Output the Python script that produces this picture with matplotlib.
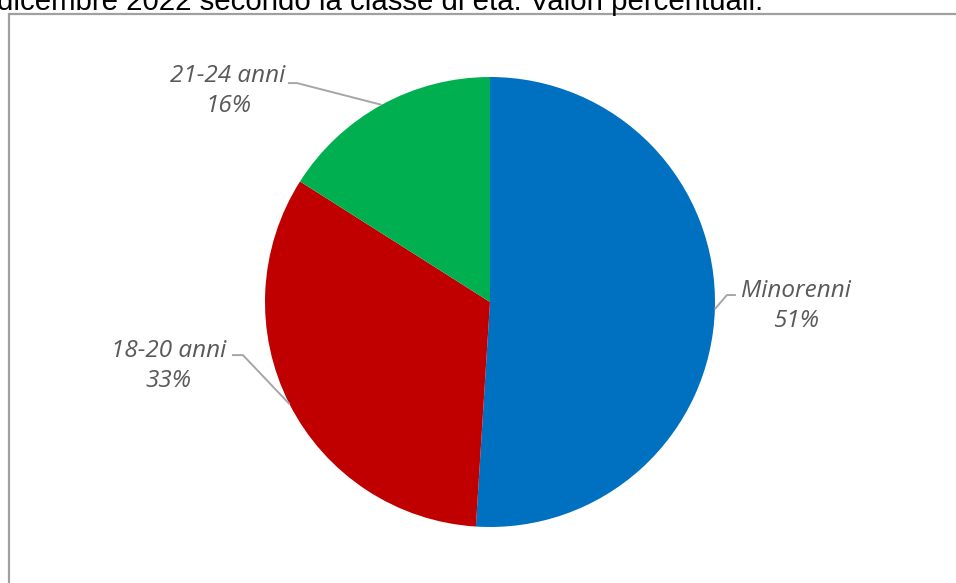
import matplotlib
matplotlib.use('Agg')
import matplotlib.pyplot as plt
import numpy as np
from matplotlib.patches import Rectangle

# data
categories = ['Minorenni', '21-24 anni', '18-20 anni']
values = [51, 16, 33]
# wedges drawn clockwise from 12 o'clock: Minorenni, 18-20, 21-24
order = [0, 2, 1]
colors = {'Minorenni': '#0070C0', '18-20 anni': '#C00000', '21-24 anni': '#00B050'}

title = 'dicembre 2022 secondo la classe di età. Valori percentuali.'

# label layout (pie radius units): text centre, elbow point, line end
label_pos = {
    'Minorenni': ((1.36, -0.018), (1.053, 0.031), (1.093, 0.031)),
    '21-24 anni': ((-1.164, 0.938), (-0.858, 0.973), (-0.898, 0.973)),
    '18-20 anni': ((-1.427, -0.284), (-1.098, -0.236), (-1.147, -0.236)),
}

W, H = 956, 583
fig = plt.figure(figsize=(W / 100, H / 100), dpi=100)
fig.patch.set_facecolor('white')

# outer frame (cut off at right and bottom)
fig.patches.append(Rectangle((9 / W, -0.1), 1.2, 1 - 14 / H + 0.1,
                             transform=fig.transFigure, fill=False,
                             edgecolor='#A0A0A0', linewidth=1.6))

fig.text(-3 / W, 1 - 10 / H, title, fontsize=21.2, family='Liberation Sans',
         va='baseline', ha='left', color='black')

cx, cy, r = 490, 583 - 302, 225
ax = fig.add_axes([(cx - r) / W, (cy - r) / H, 2 * r / W, 2 * r / H])
vals = [values[i] for i in order]
labs = [categories[i] for i in order]
wedges, _ = ax.pie(vals, colors=[colors[l] for l in labs], startangle=90,
                   counterclock=False, radius=1,
                   wedgeprops=dict(linewidth=0))
ax.set_xlim(-1, 1)
ax.set_ylim(-1, 1)
ax.set_aspect('auto')
ax.axis('off')

for w, lab, v in zip(wedges, labs, vals):
    ang = np.deg2rad((w.theta1 + w.theta2) / 2)
    x0, y0 = np.cos(ang), np.sin(ang)
    (tx, ty), (ex, ey), (lx, ly) = label_pos[lab]
    ax.plot([x0, ex, lx], [y0, ey, ly], color='#A6A6A6', lw=1.4,
            clip_on=False, solid_capstyle='butt')
    ax.text(tx, ty, f'{lab}\n{v}%', ha='center', va='center',
            fontsize=17.5, style='italic', family='Open Sans', color='#595959',
            linespacing=1.3, clip_on=False)

fig.savefig('out.png', dpi=100, facecolor='white')
